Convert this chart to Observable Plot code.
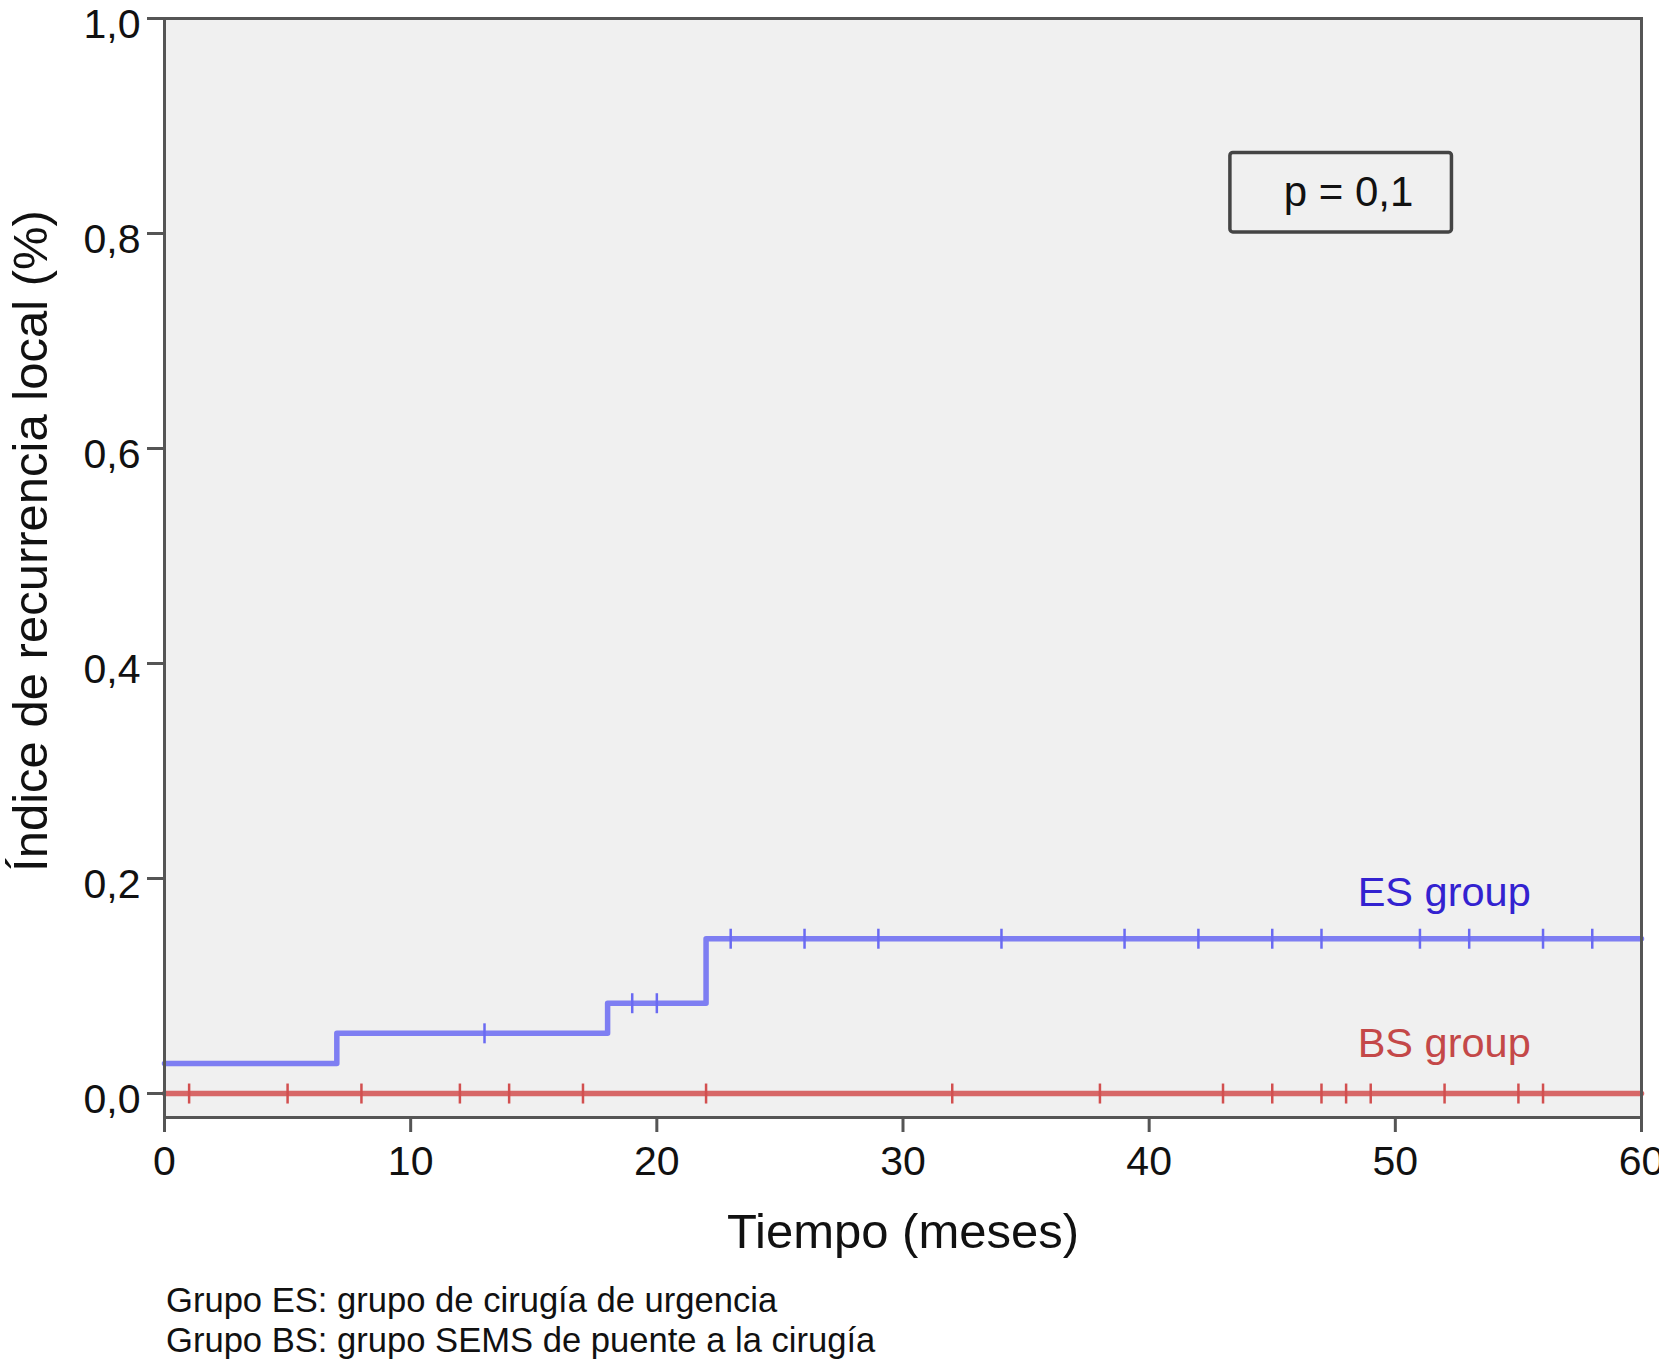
<!DOCTYPE html>
<html>
<head>
<meta charset="utf-8">
<script src="https://cdn.jsdelivr.net/npm/d3@7"></script>
<script src="https://cdn.jsdelivr.net/npm/@observablehq/plot@0.6"></script>
<style>
  body { margin: 0; background: #fff; }
  #chart svg { display: block; }
  #caption { font-family: "Liberation Sans", Arial, Helvetica, sans-serif; font-size: 34.6px; line-height: 40px; color: #111; padding-left: 166px; }
</style>
</head>
<body>
<div id="chart"></div>
<div id="caption">
  <div>Grupo ES: grupo de cirugía de urgencia</div>
  <div>Grupo BS: grupo SEMS de puente a la cirugía</div>
</div>
<script>
// ---- data ----
const esStepTimes = [0, 7, 18, 22, 60];
const esStepValues = [0.028, 0.056, 0.084, 0.144, 0.144];
const bsStepTimes = [0, 60];
const bsStepValues = [0, 0];
const esCensored = [13, 19, 20, 23, 26, 29, 34, 39, 42, 45, 47, 51, 53, 56, 58];
const bsCensored = [1, 5, 8, 12, 14, 17, 22, 32, 38, 43, 45, 47, 48, 49, 52, 55, 56];
const xTicks = [0, 10, 20, 30, 40, 50, 60];
const yTicks = [0, 0.2, 0.4, 0.6, 0.8, 1.0];
const groupLabels = ["ES group", "BS group"];
const pText = ["p = 0,1"];
const xTitle = "Tiempo (meses)";
const yTitle = "Índice de recurrencia local (%)";

// ---- helpers ----
const stepAt = (times, values) => t => {
  let v = values[0];
  for (let i = 0; i < times.length; i++) if (times[i] <= t) v = values[i];
  return v;
};
const esAt = stepAt(esStepTimes, esStepValues);
const bsAt = stepAt(bsStepTimes, bsStepValues);
const esLine = esStepTimes.map((t, i) => ({t, v: esStepValues[i]}));
const bsLine = bsStepTimes.map((t, i) => ({t, v: bsStepValues[i]}));
const esCens = esCensored.map(t => ({t, v: esAt(t)}));
const bsCens = bsCensored.map(t => ({t, v: bsAt(t)}));

const vline = { draw(ctx, size) { const h = Math.sqrt(size / Math.PI); ctx.moveTo(0, -h); ctx.lineTo(0, h); } };

const blueLine = "#6a6af2";
const redLine = "#d24f4f";
const blueText = "#3322d0";
const redText = "#c44848";
const fmt = d => d.toFixed(1).replace(".", ",");
const font = "Liberation Sans, Arial, Helvetica, sans-serif";

const chart = Plot.plot({
  width: 1659,
  height: 1280,
  marginLeft: 164,
  marginRight: 18,
  marginTop: 18,
  marginBottom: 163,
  style: { fontFamily: font, background: "#fff", color: "#111" },
  x: { domain: [0, 60] },
  y: { domain: [-0.0223, 1] },
  marks: [
    Plot.frame({ fill: "#f0f0f0" }),
    Plot.line(bsLine, { x: "t", y: "v", curve: "step-after", stroke: redLine, strokeWidth: 5.5, strokeOpacity: 0.85 }),
    Plot.dot(bsCens, { x: "t", y: "v", symbol: vline, r: 10, stroke: redLine, strokeWidth: 2.5, fill: "none" }),
    Plot.line(esLine, { x: "t", y: "v", curve: "step-after", stroke: blueLine, strokeWidth: 5.5, strokeOpacity: 0.85 }),
    Plot.dot(esCens, { x: "t", y: "v", symbol: vline, r: 10, stroke: blueLine, strokeWidth: 2.5, fill: "none" }),
    Plot.frame({ stroke: "#555", strokeWidth: 3 }),
    // axes: ticks
    Plot.axisX({ ticks: xTicks, tickSize: 15, tickFormat: () => "", stroke: "#555", strokeWidth: 3, label: null }),
    Plot.axisY({ ticks: yTicks, tickSize: 17, tickFormat: () => "", stroke: "#555", strokeWidth: 3, label: null }),
    // axes: labels
    Plot.axisX({ ticks: xTicks, tickSize: 0, tickPadding: 28, fontSize: 41, fill: "#111", label: null }),
    Plot.axisY({ ticks: yTicks, tickSize: 0, tickPadding: 24, dy: 6, fontSize: 41, fill: "#111", tickFormat: fmt, label: null }),
    // axis titles
    Plot.text([xTitle], { frameAnchor: "bottom", dy: 130, lineAnchor: "bottom", fontSize: 49, fill: "#111" }),
    Plot.text([yTitle], { frameAnchor: "left", dx: -133, dy: -27, rotate: -90, textAnchor: "middle", lineAnchor: "middle", fontSize: 49, fill: "#111" }),
    // group labels
    Plot.text([groupLabels[0]], { x: 55.5, y: 0.174, textAnchor: "end", lineAnchor: "bottom", fontSize: 41.5, fill: blueText }),
    Plot.text([groupLabels[1]], { x: 55.5, y: 0.034, textAnchor: "end", lineAnchor: "bottom", fontSize: 41.5, fill: redText }),
    // p-value box
    Plot.rect(pText, { x1: 43.3, x2: 52.3, y1: 0.801, y2: 0.875, fill: "none", stroke: "#444", strokeWidth: 3.5, rx: 3 }),
    Plot.text(pText, { x: 48.1, y: 0.838, lineAnchor: "middle", fontSize: 42, fill: "#111" })
  ]
});
document.getElementById("chart").appendChild(chart);
</script>
</body>
</html>
